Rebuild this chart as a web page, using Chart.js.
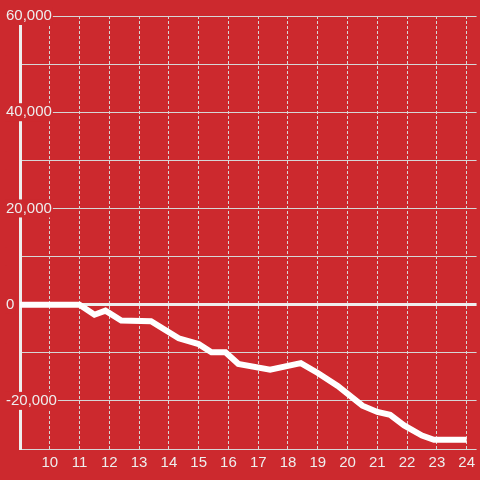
<!DOCTYPE html>
<html>
<head>
<meta charset="utf-8">
<script src="https://cdn.jsdelivr.net/npm/chart.js@4/dist/chart.umd.min.js"></script>
<style>
  html, body { margin: 0; padding: 0; background: #cc292e; }
  #wrap { width: 480px; height: 480px; position: relative; }
</style>
</head>
<body>
<div id="wrap"><canvas id="c"></canvas></div>
<script>
const hours = [8.9, 11.0, 11.5, 11.87, 12.4, 13.4, 14.33, 15.0, 15.43, 15.9, 16.33, 17.4, 18.43, 19.0, 19.67, 20.5, 21.0, 21.43, 21.9, 22.5, 22.9, 24.0];
const balance = [0, 0, -2100, -1250, -3300, -3450, -7000, -8200, -9900, -9900, -12300, -13500, -12150, -14200, -16900, -21000, -22300, -22900, -25100, -27200, -28100, -28100];
const xTicks = [10, 11, 12, 13, 14, 15, 16, 17, 18, 19, 20, 21, 22, 23, 24];
const yTicks = [-30000, -20000, -10000, 0, 10000, 20000, 30000, 40000, 50000, 60000];
const yLabeled = [-20000, 0, 20000, 40000, 60000];

const RED = '#cc292e';
const points = hours.map((h, i) => ({ x: h, y: balance[i] }));

new Chart(document.getElementById('c'), {
  type: 'line',
  data: {
    datasets: [{
      data: points,
      borderColor: '#ffffff',
      borderWidth: 6,
      pointRadius: 0,
      tension: 0,
      fill: false
    }]
  },
  options: {
    responsive: true,
    maintainAspectRatio: false,
    animation: false,
    layout: { padding: { top: 16, left: 6, right: 0, bottom: 3 } },
    plugins: { legend: { display: false }, tooltip: { enabled: false } },
    scales: {
      x: {
        type: 'linear',
        min: 9,
        max: 24.333,
        afterBuildTicks: s => { s.ticks = xTicks.map(v => ({ value: v })); },
        grid: { color: '#d6d6d6', lineWidth: 1, drawTicks: false },
        border: { display: false, dash: [3, 2] },
        ticks: {
          color: '#eeeeee',
          font: { family: '"Liberation Sans", Arial, sans-serif', size: 15 },
          padding: 5,
          maxRotation: 0,
          callback: v => String(v)
        }
      },
      y: {
        type: 'linear',
        min: -30000,
        max: 60000,
        afterBuildTicks: s => { s.ticks = yTicks.map(v => ({ value: v })); },
        afterFit: s => { s.width = 14; },
        grid: {
          drawTicks: false,
          color: ctx => (ctx.tick && ctx.tick.value === 0) ? '#eeeeee' : '#d6d6d6',
          lineWidth: ctx => (ctx.tick && ctx.tick.value === 0) ? 3 : 1
        },
        border: { display: true, color: '#eeeeee', width: 3 },
        ticks: {
          mirror: true,
          crossAlign: 'near',
          padding: -14,
          color: '#eeeeee',
          font: { family: '"Liberation Sans", Arial, sans-serif', size: 15 },
          showLabelBackdrop: true,
          backdropColor: RED,
          backdropPadding: { top: 0, bottom: 0, left: 1, right: 1 },
          callback: v => yLabeled.includes(v) ? v.toLocaleString('en-US') : ''
        }
      }
    }
  }
});
</script>
</body>
</html>
